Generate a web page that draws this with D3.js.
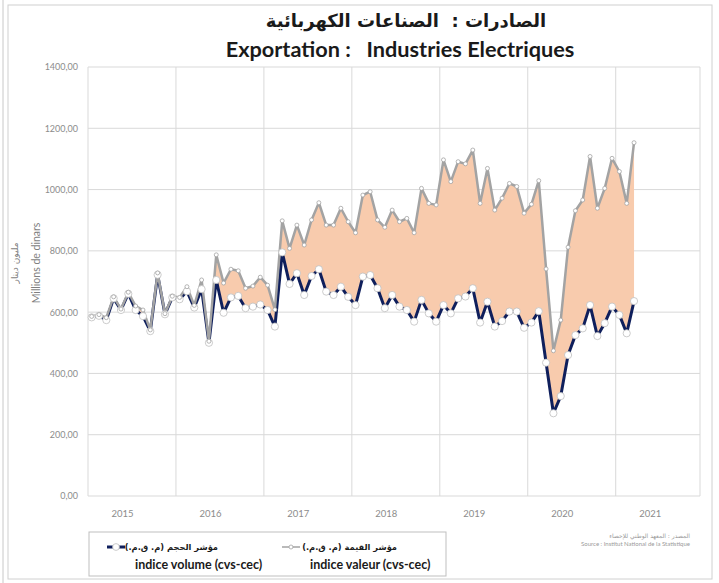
<!DOCTYPE html>
<html>
<head>
<meta charset="utf-8">
<script src="https://cdn.jsdelivr.net/npm/d3@7"></script>
<style>
    body { margin: 0; background: #fff; }
    svg { display: block; }
</style>
</head>
<body>
<div id="chart"></div>
<script>
// monthly series, Jan 2015 .. Mar 2021 (cvs-cec), millions de dinars
let startYear = 2015;
let yearLabels = ["2015", "2016", "2017", "2018", "2019", "2020", "2021"];
let yTicks = [0, 200, 400, 600, 800, 1000, 1200, 1400];

let valeur = [
    586, 592, 582, 650, 610, 665, 620, 607, 542, 728, 595, 652,
    648, 683, 622, 705, 505, 787, 695, 740, 735, 678, 685, 714,
    688, 608, 898, 808, 884, 819, 901, 957, 884, 884, 939, 895,
    859, 982, 993, 901, 877, 933, 895, 906, 859, 1004, 955, 950,
    1097, 1026, 1091, 1084, 1129, 955, 1069, 933, 972, 1020, 1010, 923,
    952, 1029, 741, 474, 574, 812, 931, 966, 1108, 939, 1004, 1102,
    1059, 955, 1153
];

let volume = [
    583, 588, 574, 645, 607, 660, 607, 587, 538, 722, 593, 648,
    642, 668, 615, 675, 500, 705, 598, 648, 653, 613, 618, 625,
    607, 553, 795, 692, 727, 656, 718, 740, 667, 656, 683, 650,
    623, 716, 721, 678, 613, 656, 618, 607, 569, 640, 596, 569,
    623, 596, 645, 651, 678, 566, 634, 553, 571, 602, 602, 549,
    566, 603, 435, 270, 326, 460, 525, 547, 623, 522, 564, 618,
    591, 531, 636
];

let data = valeur.map((v, i) => ({
    month: i,
    label: (startYear + Math.floor(i / 12)) + "-" + String(i % 12 + 1).padStart(2, "0"),
    valeur: v,
    volume: volume[i]
}));

let width = 719, height = 583;
let arFont = "'DejaVu Sans', sans-serif";
let latFont = "Lato, 'Open Sans', sans-serif";

let svg = d3.select("#chart").append("svg")
    .attr("width", width)
    .attr("height", height);

// outer frame
svg.append("line").attr("x1", 3).attr("x2", 3).attr("y1", 0).attr("y2", height)
    .attr("stroke", "#c8c8c8");
svg.append("rect")
    .attr("x", 8).attr("y", 5).attr("width", 704).attr("height", 574)
    .attr("fill", "none").attr("stroke", "#d0d0d0");

let plot = { left: 88, right: 700, top: 67, bottom: 496 };

let x = d3.scaleLinear()
    .domain([0, 83.5])
    .range([plot.left, plot.right]);

let y = d3.scaleLinear()
    .domain([0, 1400])
    .range([plot.bottom, plot.top]);

// horizontal grid
svg.append("g")
    .selectAll("line")
    .data(yTicks)
    .enter()
    .append("line")
    .attr("x1", plot.left).attr("x2", plot.right)
    .attr("y1", d => y(d)).attr("y2", d => y(d))
    .attr("stroke", "#d9d9d9");

// vertical grid at year boundaries
svg.append("g")
    .selectAll("line")
    .data(d3.range(0, 7))
    .enter()
    .append("line")
    .attr("x1", d => x(d * 12)).attr("x2", d => x(d * 12))
    .attr("y1", plot.top).attr("y2", plot.bottom)
    .attr("stroke", "#d9d9d9");

svg.append("line")
    .attr("x1", plot.right).attr("x2", plot.right)
    .attr("y1", plot.top).attr("y2", plot.bottom)
    .attr("stroke", "#d9d9d9");

// y axis labels
let fmt = d => d3.format(".2f")(d).replace(".", ",");
let yAxis = d3.axisLeft(y)
    .tickValues(yTicks)
    .tickSize(0)
    .tickPadding(10)
    .tickFormat(fmt);

svg.append("g")
    .attr("class", "axis y-axis")
    .attr("transform", "translate(" + plot.left + ",0)")
    .call(yAxis)
    .call(g => g.select(".domain").remove())
    .selectAll("text")
    .style("font-family", latFont)
    .style("font-size", "9px")
    .style("fill", "#8c8c8c");

// x axis labels
svg.append("g")
    .selectAll("text")
    .data(yearLabels)
    .enter()
    .append("text")
    .attr("x", (d, i) => x(i * 12 + 4.7))
    .attr("y", 517)
    .attr("text-anchor", "middle")
    .style("font-family", latFont)
    .style("font-size", "9.5px")
    .style("fill", "#8c8c8c")
    .text(d => d);

// shaded band between the two indices
let band = d3.area()
    .x(d => x(d.month + 0.5))
    .y0(d => y(d.volume))
    .y1(d => y(d.valeur));

svg.append("path")
    .datum(data)
    .attr("d", band)
    .attr("fill", "#f8cbad");

let lineVol = d3.line()
    .x(d => x(d.month + 0.5))
    .y(d => y(d.volume));

let lineVal = d3.line()
    .x(d => x(d.month + 0.5))
    .y(d => y(d.valeur));

svg.append("path")
    .datum(data)
    .attr("d", lineVol)
    .attr("fill", "none")
    .attr("stroke", "#0f1f5c")
    .attr("stroke-width", 3)
    .attr("stroke-linejoin", "round");

svg.append("path")
    .datum(data)
    .attr("d", lineVal)
    .attr("fill", "none")
    .attr("stroke", "#a3a3a3")
    .attr("stroke-width", 2.5)
    .attr("stroke-linejoin", "round");

// markers
svg.append("g")
    .selectAll("circle")
    .data(data)
    .enter()
    .append("circle")
    .attr("cx", d => x(d.month + 0.5))
    .attr("cy", d => y(d.volume))
    .attr("r", 3.6)
    .attr("fill", "#fff")
    .attr("stroke", "#bfbfbf")
    .attr("stroke-width", 0.8);

svg.append("g")
    .selectAll("circle")
    .data(data)
    .enter()
    .append("circle")
    .attr("cx", d => x(d.month + 0.5))
    .attr("cy", d => y(d.valeur))
    .attr("r", 2)
    .attr("fill", "#fff")
    .attr("stroke", "#a3a3a3")
    .attr("stroke-width", 0.8);

// titles
svg.append("text")
    .attr("x", 406).attr("y", 27)
    .attr("text-anchor", "middle")
    .attr("xml:space", "preserve")
    .style("font-family", arFont)
    .style("font-weight", "bold")
    .style("font-size", "18px")
    .style("fill", "#1a1a1a")
    .text("الصادرات :  الصناعات الكهربائية");

svg.append("text")
    .attr("x", 400).attr("y", 57)
    .attr("text-anchor", "middle")
    .attr("xml:space", "preserve")
    .style("font-family", latFont)
    .style("font-weight", "bold")
    .style("font-size", "21.7px")
    .style("fill", "#1a1a1a")
    .text("Exportation :   Industries Electriques");

// y axis title
let yTitle = svg.append("g")
    .attr("transform", "translate(0,263) rotate(-90)");
yTitle.append("text")
    .attr("x", 0).attr("y", 18)
    .attr("text-anchor", "middle")
    .style("font-family", arFont)
    .style("font-size", "9px")
    .style("fill", "#7f7f7f")
    .text("مليون دينار");
yTitle.append("text")
    .attr("x", 0).attr("y", 40)
    .attr("text-anchor", "middle")
    .style("font-family", latFont)
    .style("font-size", "10.5px")
    .style("fill", "#7f7f7f")
    .text("Millions de dinars");

// legend
let legend = svg.append("g");
legend.append("rect")
    .attr("x", 89).attr("y", 532).attr("width", 357).attr("height", 44)
    .attr("fill", "#fff").attr("stroke", "#bfbfbf");

let legendItems = [
    { x: 107, arEnd: 111, ar: "مؤشر الحجم (م. ق.م.)", fr: "indice volume (cvs-cec)", color: "#0f1f5c", w: 3, r: 3.4, ms: "#bfbfbf" },
    { x: 282, arEnd: 115, ar: "مؤشر القيمة (م. ق.م.)", fr: "indice valeur (cvs-cec)", color: "#a3a3a3", w: 1.5, r: 2, ms: "#a3a3a3" }
];

legendItems.forEach(item => {
    let g = legend.append("g").attr("transform", "translate(" + item.x + ",0)");
    g.append("line")
        .attr("x1", 0).attr("x2", 18)
        .attr("y1", 547).attr("y2", 547)
        .attr("stroke", item.color).attr("stroke-width", item.w);
    g.append("circle")
        .attr("cx", 9).attr("cy", 547).attr("r", item.r)
        .attr("fill", "#fff").attr("stroke", item.ms).attr("stroke-width", 0.8);
    g.append("text")
        .attr("x", item.arEnd).attr("y", 550)
        .attr("direction", "rtl")
        .attr("text-anchor", "start")
        .style("font-family", arFont)
        .style("font-weight", "bold")
        .style("font-size", "8.3px")
        .style("fill", "#1a1a1a")
        .text(item.ar);
    g.append("text")
        .attr("x", 28).attr("y", 569)
        .style("font-family", latFont)
        .style("font-weight", "bold")
        .style("font-size", "12.5px")
        .style("fill", "#1a1a1a")
        .text(item.fr);
});

// source
svg.append("text")
    .attr("x", 690).attr("y", 538)
    .attr("text-anchor", "end")
    .style("font-family", arFont)
    .style("font-size", "6px")
    .style("fill", "#9a9a9a")
    .text("المصدر : المعهد الوطني للإحصاء");
svg.append("text")
    .attr("x", 690).attr("y", 546)
    .attr("text-anchor", "end")
    .style("font-family", latFont)
    .style("font-size", "6px")
    .style("fill", "#9a9a9a")
    .text("Source : Institut National de la Statistique");
</script>
</body>
</html>
